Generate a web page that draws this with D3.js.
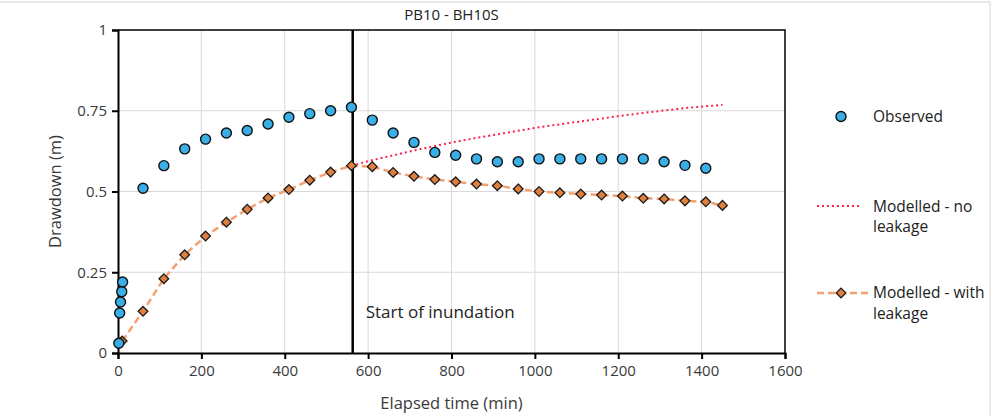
<!DOCTYPE html>
<html>
<head>
<meta charset="utf-8">
<script src="https://cdn.jsdelivr.net/npm/d3@7"></script>
<style>
  body { margin: 0; background: #fff; }
  svg { display: block; font-family: "Open Sans", Lato, sans-serif; }
</style>
</head>
<body>
<svg id="chart" width="997" height="416"></svg>
<script>
// Observed drawdown (m) vs elapsed time (min)
const obsTime = [2, 4, 6, 9, 11, 60, 110, 160, 210, 260, 310, 360, 410, 460, 510, 560,
  610, 660, 710, 760, 810, 860, 910, 960, 1010, 1060, 1110, 1160, 1210, 1260, 1310, 1360, 1410];
const obsDrawdown = [0.03, 0.124, 0.158, 0.19, 0.22, 0.51, 0.58, 0.632, 0.662, 0.681, 0.689, 0.709, 0.73, 0.741, 0.75, 0.761,
  0.721, 0.681, 0.652, 0.621, 0.612, 0.601, 0.592, 0.592, 0.601, 0.601, 0.601, 0.601, 0.601, 0.601, 0.592, 0.581, 0.572];

// Modelled - with leakage
const leakTime = [10, 60, 110, 160, 210, 260, 310, 360, 410, 460, 510, 560, 610, 660, 710, 760,
  810, 860, 910, 960, 1010, 1060, 1110, 1160, 1210, 1260, 1310, 1360, 1410, 1450];
const leakDrawdown = [0.037, 0.129, 0.23, 0.304, 0.362, 0.405, 0.445, 0.48, 0.506, 0.535, 0.56, 0.58, 0.577, 0.559, 0.547, 0.537,
  0.53, 0.523, 0.518, 0.508, 0.5, 0.496, 0.492, 0.489, 0.486, 0.479, 0.477, 0.471, 0.468, 0.457];

// Modelled - no leakage (after inundation the curves split)
const noLeakTime = [560, 610, 660, 710, 760, 810, 860, 910, 960, 1010, 1060, 1110, 1160, 1210, 1260, 1310, 1360, 1410, 1450];
const noLeakDrawdown = [0.58, 0.597, 0.612, 0.627, 0.641, 0.654, 0.666, 0.677, 0.688, 0.699, 0.708, 0.717, 0.726, 0.735, 0.743, 0.751, 0.758, 0.764, 0.768];

const inundationTime = 563;

const xTicks = [0, 200, 400, 600, 800, 1000, 1200, 1400, 1600];
const yTicks = [0, 0.25, 0.5, 0.75, 1];
const yTickLabels = ["0", "0.25", "0.5", "0.75", "1"];

const svg = d3.select("#chart");
const margin = { left: 118, right: 212, top: 30, bottom: 63 };
const width = 997 - margin.left - margin.right;
const height = 416 - margin.top - margin.bottom;

const x = d3.scaleLinear().domain([0, 1600]).range([0, width]);
const y = d3.scaleLinear().domain([0, 1]).range([height, 0]);

// Outer chart border (mostly cropped)
svg.append("rect")
  .attr("x", -2).attr("y", 2).attr("width", 992).attr("height", 430)
  .attr("fill", "none").attr("stroke", "#d4d4d4");

const g = svg.append("g").attr("transform", `translate(${margin.left},${margin.top})`);

// Gridlines
g.append("g").selectAll("line.gx")
  .data(xTicks.slice(1, -1))
  .join("line")
  .attr("x1", (d) => x(d)).attr("x2", (d) => x(d))
  .attr("y1", 0).attr("y2", height)
  .attr("stroke", "#d9d9d9").attr("stroke-width", 1);

g.append("g").selectAll("line.gy")
  .data(yTicks.slice(1, -1))
  .join("line")
  .attr("x1", 0).attr("x2", width)
  .attr("y1", (d) => y(d)).attr("y2", (d) => y(d))
  .attr("stroke", "#d9d9d9").attr("stroke-width", 1);

// Frame top/right
g.append("path")
  .attr("d", `M0,0H${width}V${height}`)
  .attr("fill", "none").attr("stroke", "#000").attr("stroke-width", 1.5);

// Axes
const xAxis = g.append("g")
  .attr("transform", `translate(0,${height})`)
  .call(d3.axisBottom(x).tickValues(xTicks).tickSize(6).tickPadding(6).tickFormat(d3.format("d")));
const yAxis = g.append("g")
  .call(d3.axisLeft(y).tickValues(yTicks).tickSize(6).tickPadding(5).tickFormat((d, i) => yTickLabels[i]));

[xAxis, yAxis].forEach((a) => {
  a.select(".domain").attr("stroke", "#000").attr("stroke-width", 2);
  a.selectAll(".tick line").attr("stroke", "#000").attr("stroke-width", 2);
  a.selectAll(".tick text").attr("font-size", "15px").attr("fill", "#3a3a3a")
    .attr("font-family", "'Open Sans', Lato, sans-serif");
});

// Start of inundation line
g.append("line")
  .attr("x1", x(inundationTime)).attr("x2", x(inundationTime))
  .attr("y1", 0).attr("y2", height)
  .attr("stroke", "#000").attr("stroke-width", 2.5);

g.append("text")
  .attr("x", x(inundationTime) + 13).attr("y", y(0.108))
  .attr("font-size", "17px").attr("fill", "#222")
  .text("Start of inundation");

const line = d3.line().x((d) => x(d[0])).y((d) => y(d[1]));

// Modelled - no leakage
const noLeak = noLeakTime.map((t, i) => [t, noLeakDrawdown[i]]);
g.append("path")
  .datum(noLeak)
  .attr("d", line)
  .attr("fill", "none")
  .attr("stroke", "#ff1f4f")
  .attr("stroke-width", 2)
  .attr("stroke-dasharray", "2,3");

// Modelled - with leakage
const leak = leakTime.map((t, i) => [t, leakDrawdown[i]]);
g.append("path")
  .datum(leak)
  .attr("d", line)
  .attr("fill", "none")
  .attr("stroke", "#f4a071")
  .attr("stroke-width", 2.5)
  .attr("stroke-dasharray", "7,4");

const diamond = d3.symbol().type(d3.symbolDiamond2).size(60);
g.append("g").selectAll("path")
  .data(leak)
  .join("path")
  .attr("transform", (d) => `translate(${x(d[0])},${y(d[1])})`)
  .attr("d", diamond)
  .attr("fill", "#e0803f")
  .attr("stroke", "#1a1a1a")
  .attr("stroke-width", 1.3);

// Observed
g.append("g").selectAll("circle")
  .data(obsTime.map((t, i) => [t, obsDrawdown[i]]))
  .join("circle")
  .attr("cx", (d) => x(d[0]))
  .attr("cy", (d) => y(d[1]))
  .attr("r", 5)
  .attr("fill", "#3aaee6")
  .attr("stroke", "#111")
  .attr("stroke-width", 1.4);

// Title and axis titles
svg.append("text")
  .attr("x", margin.left + width / 2).attr("y", 20)
  .attr("text-anchor", "middle").attr("font-size", "15px").attr("fill", "#222")
  .text("PB10 - BH10S");

svg.append("text")
  .attr("x", margin.left + width / 2).attr("y", 409)
  .attr("text-anchor", "middle").attr("font-size", "16.5px").attr("fill", "#3a3a3a")
  .text("Elapsed time (min)");

svg.append("text")
  .attr("transform", `translate(61,${margin.top + height / 2}) rotate(-90)`)
  .attr("text-anchor", "middle").attr("font-size", "16.5px").attr("fill", "#3a3a3a")
  .text("Drawdown (m)");

// Legend
const legend = svg.append("g");
const lx = 873;

legend.append("circle")
  .attr("cx", 841).attr("cy", 116.5).attr("r", 5)
  .attr("fill", "#3aaee6").attr("stroke", "#111").attr("stroke-width", 1.4);
legend.append("text").attr("x", lx).attr("y", 122)
  .attr("font-size", "15.5px").attr("fill", "#222").text("Observed");

legend.append("line")
  .attr("x1", 817).attr("x2", 862).attr("y1", 206).attr("y2", 206)
  .attr("stroke", "#ff1f4f").attr("stroke-width", 2).attr("stroke-dasharray", "2,3");
legend.append("text").attr("x", lx).attr("y", 212)
  .attr("font-size", "15.5px").attr("fill", "#222").text("Modelled - no");
legend.append("text").attr("x", lx).attr("y", 232)
  .attr("font-size", "15.5px").attr("fill", "#222").text("leakage");

legend.append("line")
  .attr("x1", 817).attr("x2", 868).attr("y1", 293).attr("y2", 293)
  .attr("stroke", "#f4a071").attr("stroke-width", 2.5).attr("stroke-dasharray", "7,4");
legend.append("path")
  .attr("transform", "translate(841,293)")
  .attr("d", diamond)
  .attr("fill", "#e0803f").attr("stroke", "#1a1a1a").attr("stroke-width", 1.3);
legend.append("text").attr("x", lx).attr("y", 298)
  .attr("font-size", "15.5px").attr("fill", "#222").text("Modelled - with");
legend.append("text").attr("x", lx).attr("y", 319)
  .attr("font-size", "15.5px").attr("fill", "#222").text("leakage");
</script>
</body>
</html>
